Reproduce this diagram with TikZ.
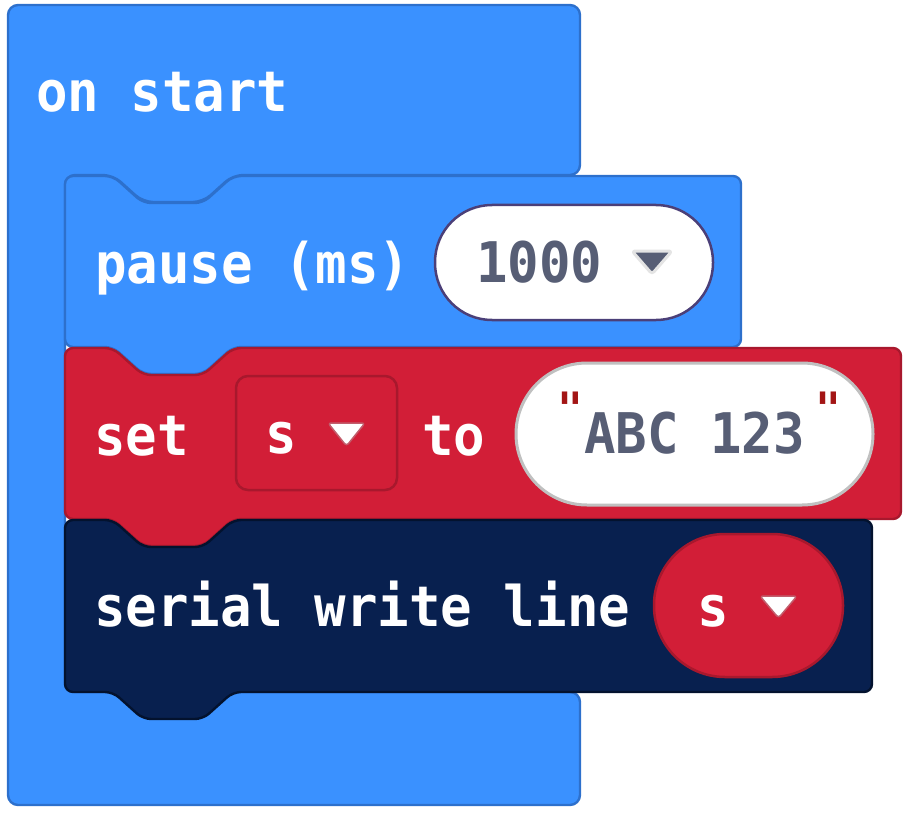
\documentclass[tikz,border=0pt]{standalone}
\usepackage{fontspec}
\newfontfamily\blkfont[FakeStretch=0.935]{DejaVu Sans Mono}
\definecolor{basicfill}{HTML}{3A91FF}
\definecolor{basicline}{HTML}{2D70CC}
\definecolor{varfill}{HTML}{D21E37}
\definecolor{varline}{HTML}{A8182D}
\definecolor{serfill}{HTML}{08204F}
\definecolor{serline}{HTML}{03122E}
\definecolor{valtext}{HTML}{575E75}
\definecolor{pillline}{HTML}{4B3F78}
\definecolor{strline}{HTML}{C0C0C0}
\definecolor{quotecol}{HTML}{A31515}
\definecolor{arrowline}{HTML}{E4E4E4}
\begin{document}
\begin{tikzpicture}[x=1pt,y=-1pt,
  blockshape/.style={line width=2.4pt,rounded corners=8pt,line join=round},
  lbl/.style={anchor=base west,inner sep=0pt,text=white,font=\blkfont\bfseries\fontsize{56}{60}\selectfont},
  vallbl/.style={anchor=base west,inner sep=0pt,text=valtext,font=\blkfont\bfseries\fontsize{56}{60}\selectfont},
  qmark/.style={anchor=north west,inner sep=0pt,text=quotecol,font=\blkfont\bfseries\fontsize{46}{50}\selectfont}
]
\useasboundingbox (0,0) rectangle (907,813);
% on start (C block)
\draw[blockshape,fill=basicfill,draw=basicline,rounded corners=10pt]
  (8,5) -- (580,5) -- (580,175) -- (233,175) -- (203,202) -- (143,202) -- (113,175)
  -- (65,175) -- (65,692) -- (580,692) -- (580,805) -- (8,805) -- cycle;
% pause block
\draw[blockshape,fill=basicfill,draw=basicline]
  (65,176) -- (113,176) -- (143,203) -- (203,203) -- (233,176) -- (741,176)
  -- (741,347) -- (233,347) -- (203,374) -- (143,374) -- (113,347) -- (65,347) -- cycle;
% set block
\draw[blockshape,fill=varfill,draw=varline]
  (65,348) -- (113,348) -- (143,375) -- (203,375) -- (233,348) -- (901,348)
  -- (901,519) -- (233,519) -- (203,546) -- (143,546) -- (113,519) -- (65,519) -- cycle;
% serial block
\draw[blockshape,fill=serfill,draw=serline]
  (65,520) -- (113,520) -- (143,547) -- (203,547) -- (233,520) -- (872,520)
  -- (872,692) -- (233,692) -- (203,719) -- (143,719) -- (113,692) -- (65,692) -- cycle;

% texts
\node[lbl] (onstart) at (36,112) {on start};
\node[lbl] (pause) at (95,283) {pause (ms)};
% 1000 pill
\draw[fill=white,draw=pillline,line width=2.5pt,rounded corners=57pt] (435,205) rectangle (713,320);
\node[vallbl] (val) at (476,282) {1000};
\draw[fill=valtext,draw=arrowline,line width=3pt,line join=round,rounded corners=3pt] (632,251) -- (672,251) -- (652,274) -- cycle;

\node[lbl] (set) at (94,455) {set};
\draw[fill=varfill,draw=varline,line width=2.5pt,rounded corners=12pt] (236,376) rectangle (397,490);
\node[lbl] (svar) at (265,453) {s};
\draw[fill=white,draw=varline!70!white,line width=1.5pt,line join=round,rounded corners=3pt] (328,423) -- (365,423) -- (346.5,446) -- cycle;
\node[lbl] (to) at (422,455) {to};
% string pill
\draw[fill=white,draw=strline,line width=3pt,rounded corners=71pt] (516,363) rectangle (873,505);
\node[qmark] (q1) at (557,392) {"};
\node[qmark] (q2) at (815,392) {"};
\node[vallbl] (abc) at (584,453) {ABC 123};

\node[lbl] (serial) at (94,626) {serial write line};
\draw[fill=varfill,draw=varline,line width=2.5pt,rounded corners=71pt] (654,534) rectangle (843,677);
\node[lbl] (s2) at (697,626) {s};
\draw[fill=white,draw=varline!70!white,line width=1.5pt,line join=round,rounded corners=3pt] (760,596) -- (797,596) -- (778.5,618) -- cycle;
\end{tikzpicture}
\end{document}
